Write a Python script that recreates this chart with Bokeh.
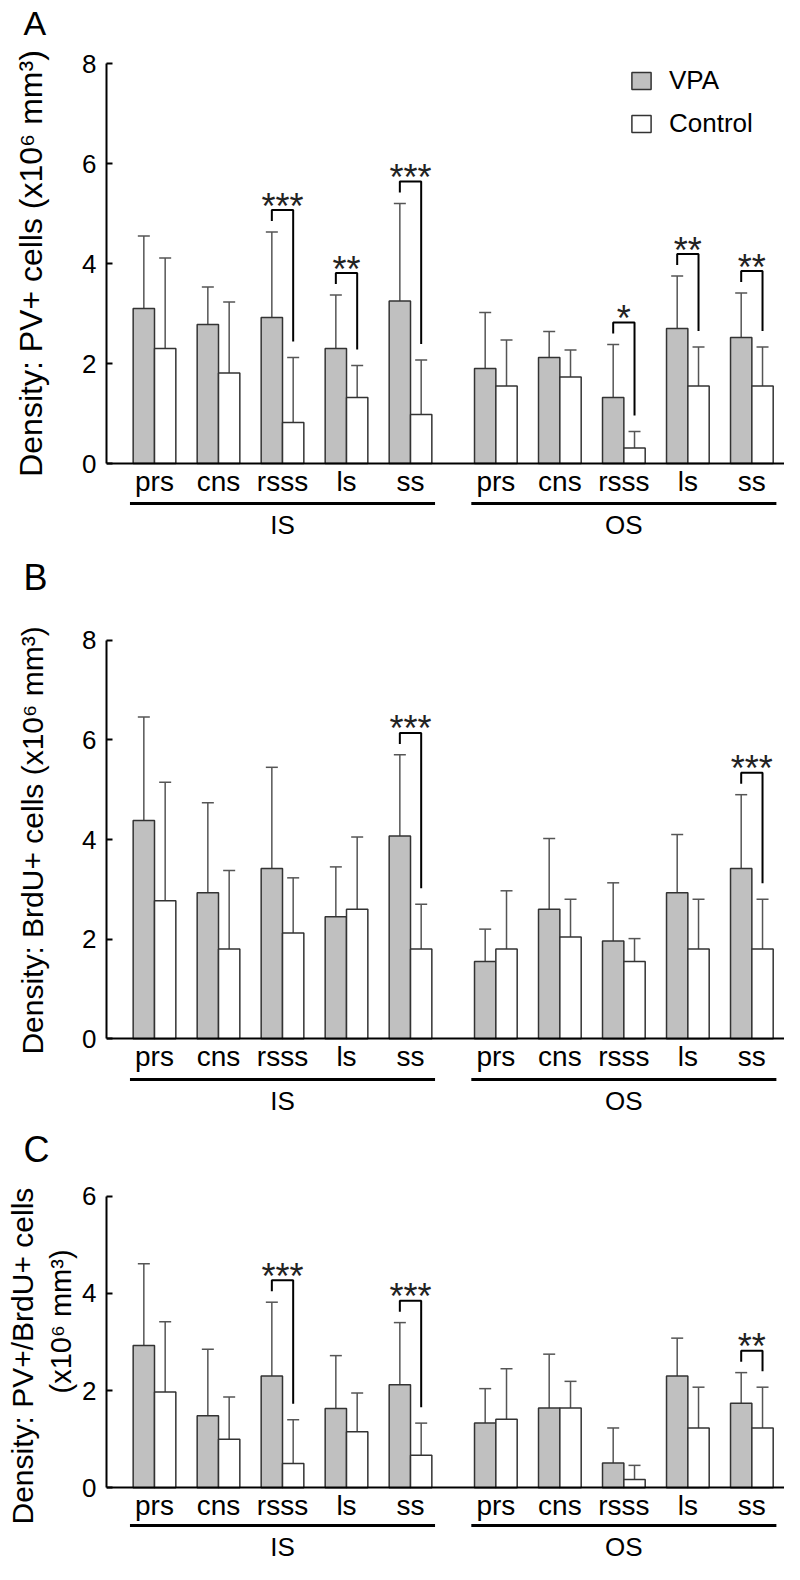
from bokeh.plotting import figure
from bokeh.layouts import column
from bokeh.models import (ColumnDataSource, Whisker, TeeHead, FixedTicker,
                          Legend, LegendItem, Range1d, Title, LinearAxis)
from bokeh.core.properties import value
from bokeh.embed import file_html
from bokeh.resources import INLINE

# ---------------- data ----------------
categories = ["prs", "cns", "rsss", "ls", "ss"]
regions = ["IS", "OS"]

# Panel A: PV+ cells (IS prs..ss, then OS prs..ss)
a_vpa = [3.10, 2.78, 2.92, 2.30, 3.25, 1.90, 2.12, 1.32, 2.70, 2.52]
a_vpa_sd = [1.45, 0.75, 1.71, 1.07, 1.95, 1.12, 0.52, 1.06, 1.05, 0.89]
a_ctl = [2.30, 1.81, 0.82, 1.32, 0.98, 1.55, 1.73, 0.31, 1.55, 1.55]
a_ctl_sd = [1.81, 1.42, 1.30, 0.64, 1.09, 0.92, 0.54, 0.33, 0.78, 0.78]
a_sig = ["", "", "***", "**", "***", "", "", "*", "**", "**"]

# Panel B: BrdU+ cells
b_vpa = [4.38, 2.93, 3.42, 2.45, 4.07, 1.55, 2.60, 1.96, 2.93, 3.42]
b_vpa_sd = [2.08, 1.81, 2.03, 1.00, 1.63, 0.65, 1.42, 1.17, 1.17, 1.48]
b_ctl = [2.77, 1.80, 2.12, 2.60, 1.80, 1.80, 2.04, 1.55, 1.80, 1.80]
b_ctl_sd = [2.38, 1.58, 1.11, 1.45, 0.90, 1.17, 0.76, 0.46, 1.00, 1.00]
b_sig = ["", "", "", "", "***", "", "", "", "", "***"]

# Panel C: PV+/BrdU+ cells
c_vpa = [2.93, 1.48, 2.30, 1.63, 2.12, 1.33, 1.64, 0.51, 2.30, 1.74]
c_vpa_sd = [1.68, 1.37, 1.52, 1.09, 1.28, 0.71, 1.11, 0.72, 0.78, 0.63]
c_ctl = [1.97, 1.00, 0.50, 1.15, 0.67, 1.41, 1.64, 0.17, 1.23, 1.23]
c_ctl_sd = [1.45, 0.87, 0.90, 0.80, 0.66, 1.04, 0.55, 0.29, 0.84, 0.84]
c_sig = ["", "", "***", "", "***", "", "", "", "", "**"]

# ---------------- style / layout ----------------
FONT = "Liberation Sans"
GRAY = "#c0c0c0"
EDGE = "#333333"
WHISK = "#555555"
W = 784
LEFT = 106
GROUP_STEP = 3      # positions between categories
REGION_STEP = 16    # positions between region starts
positions = [r * REGION_STEP + GROUP_STEP * i for r in range(len(regions))
             for i in range(len(categories))]
labels_full = categories * len(regions)
n = len(categories)
region_centers = [sum(positions[r * n:(r + 1) * n]) // n for r in range(len(regions))]


def make_panel(letter, ymax, yticks, vpa, vpa_sd, ctl, ctl_sd, sig,
               height, border_top, border_bottom, y_end, y_start, underline_px,
               letter_standoff=0, letter_size="36px", axis_label=None,
               axis_label_size="30px", side_titles=(), legend=False):
    p = figure(width=W, height=height, output_backend="svg", toolbar_location=None,
               x_range=Range1d(-2.25, 29.53), y_range=Range1d(y_start, y_end),
               min_border_left=LEFT, min_border_right=0,
               min_border_top=border_top, min_border_bottom=border_bottom, title=letter)
    frame_h = height - border_top - border_bottom
    ppu = frame_h / (y_end - y_start)

    p.title.text_font = FONT
    p.title.text_font_size = letter_size
    p.title.text_font_style = "normal"
    p.title.text_color = "black"
    p.title.align = "left"
    p.title.offset = -LEFT + 23
    p.title.standoff = letter_standoff

    p.outline_line_color = None
    p.xgrid.grid_line_color = None
    p.ygrid.grid_line_color = None

    # y axis
    ya = p.yaxis[0]
    ya.bounds = (0, ymax)
    ya.ticker = FixedTicker(ticks=yticks)
    ya.minor_tick_line_color = None
    ya.major_tick_in = 6
    ya.major_tick_out = 0
    ya.axis_line_width = 2
    ya.major_tick_line_width = 2
    ya.major_label_text_font = FONT
    ya.major_label_text_font_size = "26px"
    ya.major_label_text_color = "black"
    ya.major_label_standoff = 10
    if axis_label:
        ya.axis_label = axis_label
        ya.axis_label_text_font = FONT
        ya.axis_label_text_font_size = axis_label_size
        ya.axis_label_text_font_style = "normal"
        ya.axis_label_text_color = "black"
        ya.axis_label_standoff = 30

    # multi-line y label as left-side titles placed along the 0..ymax span
    for text, size, off, stand in side_titles:
        p.add_layout(Title(text=text, align="left", offset=off, standoff=stand,
                           text_font=FONT, text_font_size=size,
                           text_font_style="normal", text_color="black"), "left")

    # category axis drawn at y = 0
    xa = p.xaxis[0]
    xa.fixed_location = 0
    xa.ticker = FixedTicker(ticks=positions)
    xa.major_label_overrides = {pp: lab for pp, lab in zip(positions, labels_full)}
    xa.major_tick_line_color = None
    xa.minor_tick_line_color = None
    xa.major_tick_out = 0
    xa.axis_line_width = 2
    xa.major_label_text_font = FONT
    xa.major_label_text_font_size = "28px"
    xa.major_label_text_color = "black"
    xa.major_label_standoff = 2

    # region axis (IS / OS) below the frame
    ra = LinearAxis(ticker=FixedTicker(ticks=region_centers),
                    major_label_overrides={c: r for c, r in zip(region_centers, regions)},
                    axis_line_color=None, major_tick_line_color=None,
                    minor_tick_line_color=None, major_tick_out=0, major_tick_in=0,
                    minor_tick_out=0, major_label_standoff=3,
                    major_label_text_font=FONT, major_label_text_font_size="26px",
                    major_label_text_color="black")
    p.add_layout(ra, "below")

    xv = [x - 0.5 for x in positions]
    xc = [x + 0.5 for x in positions]
    src_v = ColumnDataSource(dict(x=xv, top=vpa, upper=[a + b for a, b in zip(vpa, vpa_sd)]))
    src_c = ColumnDataSource(dict(x=xc, top=ctl, upper=[a + b for a, b in zip(ctl, ctl_sd)]))

    for src in (src_v, src_c):
        p.add_layout(Whisker(source=src, base="x", lower="top", upper="upper",
                             line_color=WHISK, line_width=1.5, lower_head=None,
                             upper_head=TeeHead(size=12, line_color=WHISK, line_width=1.5)))
    rv = p.vbar(x="x", top="top", bottom=0, width=1, source=src_v,
                fill_color=GRAY, line_color=EDGE, line_width=1.5)
    rc = p.vbar(x="x", top="top", bottom=0, width=1, source=src_c,
                fill_color="white", line_color=EDGE, line_width=1.5)

    # significance brackets
    bxs, bys, sx, sy, st = [], [], [], [], []
    for i, s in enumerate(sig):
        if not s:
            continue
        top = vpa[i] + vpa_sd[i] + 22 / ppu
        lb = top - 11 / ppu
        rb = ctl[i] + ctl_sd[i] + 16 / ppu
        bxs.append([xv[i], xv[i], xc[i], xc[i]])
        bys.append([lb, top, top, rb])
        sx.append(positions[i])
        sy.append(top + 4 / ppu)
        st.append(s)
    if bxs:
        p.multi_line(xs=bxs, ys=bys, line_color="black", line_width=2)
        p.text(x=sx, y=sy, text=st, text_font=value(FONT), text_font_size="36px",
               text_align="center", text_baseline="alphabetic", text_color="#222222")

    # region underlines
    for r in range(len(regions)):
        grp = positions[r * n:(r + 1) * n]
        p.segment(x0=[grp[0] - 1.15], x1=[grp[-1] + 1.15],
                  y0=[-underline_px / ppu], y1=[-underline_px / ppu],
                  line_color="black", line_width=3)

    if legend:
        lg = Legend(items=[LegendItem(label="VPA", renderers=[rv]),
                           LegendItem(label="Control", renderers=[rc])],
                    location=(523, 367), border_line_color=None,
                    background_fill_alpha=0, padding=0, margin=0, spacing=12,
                    glyph_width=24, glyph_height=21, label_standoff=16,
                    label_text_font=FONT, label_text_font_size="26px",
                    label_text_color="black")
        p.add_layout(lg)
    return p


SUP = "(x10\u2076 mm\u00b3)"
pA = make_panel("A", 8, [0, 2, 4, 6, 8], a_vpa, a_vpa_sd, a_ctl, a_ctl_sd, a_sig,
                height=542, border_top=20, border_bottom=36, y_end=8.86, y_start=-0.86,
                underline_px=40, letter_standoff=-42, letter_size="34px",
                axis_label="Density: PV+ cells " + SUP, axis_label_size="32px",
                legend=True)
pB = make_panel("B", 8, [0, 2, 4, 6, 8], b_vpa, b_vpa_sd, b_ctl, b_ctl_sd, b_sig,
                height=576, border_top=56, border_bottom=34, y_end=8.84, y_start=-0.88,
                underline_px=41, letter_standoff=2,
                axis_label="Density: BrdU+ cells " + SUP, axis_label_size="30px")
pC = make_panel("C", 6, [0, 2, 4, 6], c_vpa, c_vpa_sd, c_ctl, c_ctl_sd, c_sig,
                height=446, border_top=52, border_bottom=34, y_end=6.532, y_start=-0.84,
                underline_px=38, letter_standoff=2,
                side_titles=[(SUP, "29px", 135, 6),
                             ("Density: PV+/BrdU+ cells", "30px", 4, 2)])

layout = column(pA, pB, pC)
open("out.html", "w").write(file_html(layout, INLINE))
